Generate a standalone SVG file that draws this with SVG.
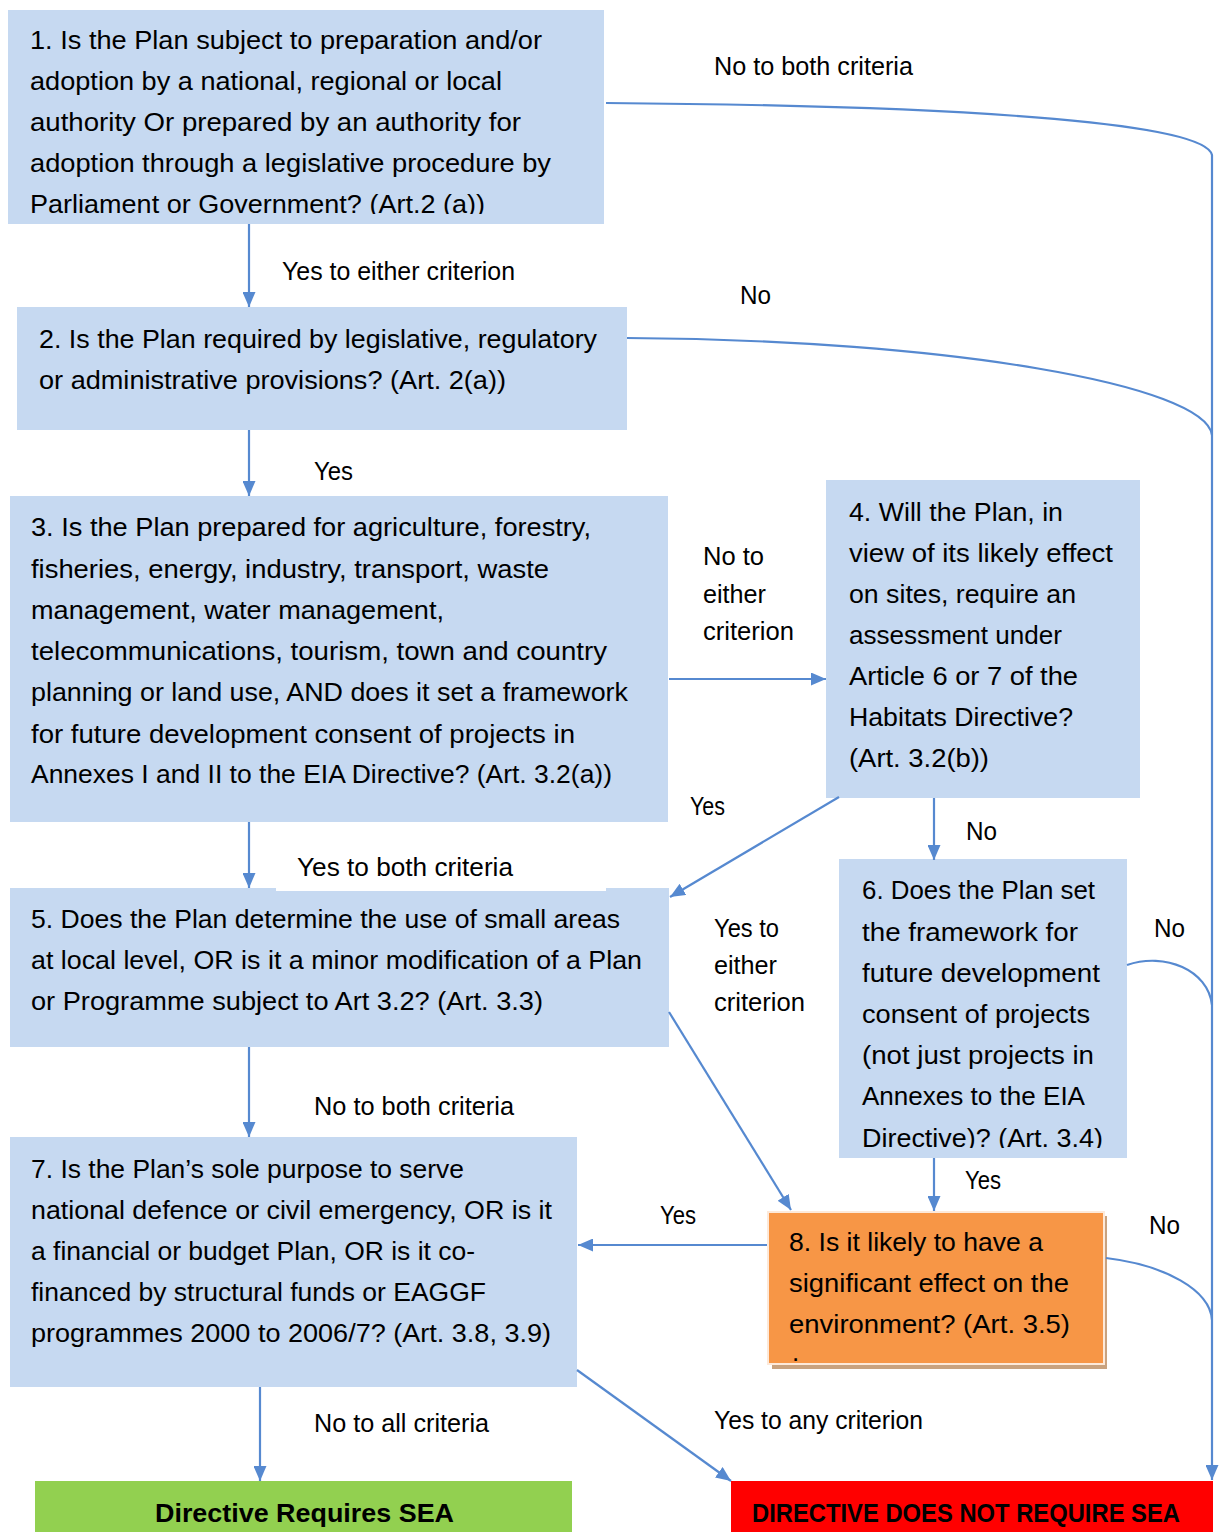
<svg xmlns="http://www.w3.org/2000/svg" width="1222" height="1532" viewBox="0 0 1222 1532">
<style>
.box{fill:#c6d9f1}
.t{font-family:"Liberation Sans",Arial,sans-serif;font-size:26px;fill:#000}
.lb{font-family:"Liberation Sans",Arial,sans-serif;font-size:26px;fill:#000}
.b{font-family:"Liberation Sans",Arial,sans-serif;font-size:26px;font-weight:bold;fill:#000}
.c{fill:none;stroke:#5689d0;stroke-width:2.2}
</style>
<defs>
<marker id="ah" markerUnits="userSpaceOnUse" markerWidth="15" markerHeight="13" refX="15" refY="6.5" orient="auto">
<path d="M0,0 L15,6.5 L0,13 z" fill="#5689d0"/>
</marker>
<clipPath id="clip1"><rect x="8" y="10" width="596" height="204"/></clipPath>
<clipPath id="clip6"><rect x="839" y="859" width="288" height="289"/></clipPath>
<clipPath id="clip8"><rect x="768" y="1212" width="336" height="152"/></clipPath>
</defs>
<rect width="1222" height="1532" fill="#fff"/>

<g id="node1">
<rect class="box" x="8" y="10" width="596" height="214"/>
<g clip-path="url(#clip1)">
<text class="t" x="30" y="49" textLength="512" lengthAdjust="spacingAndGlyphs">1. Is the Plan subject to preparation and/or</text>
<text class="t" x="30" y="90" textLength="472" lengthAdjust="spacingAndGlyphs">adoption by a national, regional or local</text>
<text class="t" x="30" y="131" textLength="491" lengthAdjust="spacingAndGlyphs">authority Or prepared by an authority for</text>
<text class="t" x="30" y="172" textLength="521" lengthAdjust="spacingAndGlyphs">adoption through a legislative procedure by</text>
<text class="t" x="30" y="213" textLength="455" lengthAdjust="spacingAndGlyphs">Parliament or Government? (Art.2 (a))</text>
</g>
</g>

<g id="node2">
<rect class="box" x="17" y="307" width="610" height="123"/>
<text class="t" x="39" y="348" textLength="558" lengthAdjust="spacingAndGlyphs">2. Is the Plan required by legislative, regulatory</text>
<text class="t" x="39" y="389" textLength="467" lengthAdjust="spacingAndGlyphs">or administrative provisions? (Art. 2(a))</text>
</g>

<g id="node3">
<rect class="box" x="10" y="496" width="658" height="326"/>
<text class="t" x="31" y="536" textLength="560" lengthAdjust="spacingAndGlyphs">3. Is the Plan prepared for agriculture, forestry,</text>
<text class="t" x="31" y="578" textLength="518" lengthAdjust="spacingAndGlyphs">fisheries, energy, industry, transport, waste</text>
<text class="t" x="31" y="619" textLength="413" lengthAdjust="spacingAndGlyphs">management, water management,</text>
<text class="t" x="31" y="660" textLength="576" lengthAdjust="spacingAndGlyphs">telecommunications, tourism, town and country</text>
<text class="t" x="31" y="701" textLength="597" lengthAdjust="spacingAndGlyphs">planning or land use, AND does it set a framework</text>
<text class="t" x="31" y="743" textLength="544" lengthAdjust="spacingAndGlyphs">for future development consent of projects in</text>
<text class="t" x="31" y="783" textLength="581" lengthAdjust="spacingAndGlyphs">Annexes I and II to the EIA Directive? (Art. 3.2(a))</text>
</g>

<g id="node4">
<rect class="box" x="826" y="480" width="314" height="318"/>
<text class="t" x="849" y="521" textLength="214" lengthAdjust="spacingAndGlyphs">4. Will the Plan, in</text>
<text class="t" x="849" y="562" textLength="264" lengthAdjust="spacingAndGlyphs">view of its likely effect</text>
<text class="t" x="849" y="603" textLength="227" lengthAdjust="spacingAndGlyphs">on sites, require an</text>
<text class="t" x="849" y="644" textLength="213" lengthAdjust="spacingAndGlyphs">assessment under</text>
<text class="t" x="849" y="685" textLength="229" lengthAdjust="spacingAndGlyphs">Article 6 or 7 of the</text>
<text class="t" x="849" y="726" textLength="224" lengthAdjust="spacingAndGlyphs">Habitats Directive?</text>
<text class="t" x="849" y="767" textLength="140" lengthAdjust="spacingAndGlyphs">(Art. 3.2(b))</text>
</g>

<g id="node5">
<rect class="box" x="10" y="888" width="659" height="159"/>
<text class="t" x="31" y="928" textLength="589" lengthAdjust="spacingAndGlyphs">5. Does the Plan determine the use of small areas</text>
<text class="t" x="31" y="969" textLength="611" lengthAdjust="spacingAndGlyphs">at local level, OR is it a minor modification of a Plan</text>
<text class="t" x="31" y="1010" textLength="512" lengthAdjust="spacingAndGlyphs">or Programme subject to Art 3.2? (Art. 3.3)</text>
</g>

<g id="node6">
<rect class="box" x="839" y="859" width="288" height="299"/>
<g clip-path="url(#clip6)">
<text class="t" x="862" y="899" textLength="233" lengthAdjust="spacingAndGlyphs">6. Does the Plan set</text>
<text class="t" x="862" y="941" textLength="216" lengthAdjust="spacingAndGlyphs">the framework for</text>
<text class="t" x="862" y="982" textLength="238" lengthAdjust="spacingAndGlyphs">future development</text>
<text class="t" x="862" y="1023" textLength="228" lengthAdjust="spacingAndGlyphs">consent of projects</text>
<text class="t" x="862" y="1064" textLength="232" lengthAdjust="spacingAndGlyphs">(not just projects in</text>
<text class="t" x="862" y="1105" textLength="223" lengthAdjust="spacingAndGlyphs">Annexes to the EIA</text>
<text class="t" x="862" y="1147" textLength="241" lengthAdjust="spacingAndGlyphs">Directive)? (Art. 3.4)</text>
</g>
</g>

<g id="node7">
<rect class="box" x="10" y="1137" width="567" height="250"/>
<text class="t" x="31" y="1178" textLength="433" lengthAdjust="spacingAndGlyphs">7. Is the Plan’s sole purpose to serve</text>
<text class="t" x="31" y="1219" textLength="521" lengthAdjust="spacingAndGlyphs">national defence or civil emergency, OR is it</text>
<text class="t" x="31" y="1260" textLength="444" lengthAdjust="spacingAndGlyphs">a financial or budget Plan, OR is it co-</text>
<text class="t" x="31" y="1301" textLength="455" lengthAdjust="spacingAndGlyphs">financed by structural funds or EAGGF</text>
<text class="t" x="31" y="1342" textLength="520" lengthAdjust="spacingAndGlyphs">programmes 2000 to 2006/7? (Art. 3.8, 3.9)</text>
</g>

<g id="node8">
<rect x="772" y="1216" width="335" height="153" fill="#c9a27e"/>
<rect x="768" y="1212" width="336" height="152" fill="#f79646" stroke="#fde9d9" stroke-width="2"/>
<g clip-path="url(#clip8)">
<text class="t" x="789" y="1251" textLength="254" lengthAdjust="spacingAndGlyphs">8. Is it likely to have a</text>
<text class="t" x="789" y="1292" textLength="280" lengthAdjust="spacingAndGlyphs">significant effect on the</text>
<text class="t" x="789" y="1333" textLength="281" lengthAdjust="spacingAndGlyphs">environment? (Art. 3.5)</text>
<text class="t" x="792" y="1361" font-size="14">.</text>
</g>
</g>

<g id="result-requires">
<rect x="35" y="1481" width="537" height="51" fill="#92d050"/>
<text class="b" x="155" y="1522" textLength="299" lengthAdjust="spacingAndGlyphs">Directive Requires SEA</text>
</g>

<g id="result-not-required">
<rect x="731" y="1481" width="482" height="51" fill="#ff0000"/>
<text class="b" x="752" y="1522" textLength="428" lengthAdjust="spacingAndGlyphs">DIRECTIVE DOES NOT REQUIRE SEA</text>
</g>

<g id="connectors">
<path class="c" d="M606,103 C1000,106 1205,125 1212,155 L1212,1480" marker-end="url(#ah)"/>
<path class="c" d="M627,338 C950,340 1205,385 1212,435"/>
<path class="c" d="M1127,965 C1165,952 1208,970 1212,1005"/>
<path class="c" d="M1106,1258 C1165,1265 1210,1290 1212,1320"/>
<path class="c" d="M249,224 L249,307" marker-end="url(#ah)"/>
<path class="c" d="M249,430 L249,496" marker-end="url(#ah)"/>
<path class="c" d="M669,679 L826,679" marker-end="url(#ah)"/>
<path class="c" d="M839,797 L670,897" marker-end="url(#ah)"/>
<path class="c" d="M934,798 L934,860" marker-end="url(#ah)"/>
<path class="c" d="M249,822 L249,888" marker-end="url(#ah)"/>
<path class="c" d="M669,1012 L791,1210" marker-end="url(#ah)"/>
<path class="c" d="M249,1047 L249,1137" marker-end="url(#ah)"/>
<path class="c" d="M934,1158 L934,1211" marker-end="url(#ah)"/>
<path class="c" d="M767,1245 L578,1245" marker-end="url(#ah)"/>
<path class="c" d="M577,1370 L731,1481" marker-end="url(#ah)"/>
<path class="c" d="M260,1387 L260,1481" marker-end="url(#ah)"/>
</g>

<g id="labels">
<text class="lb" x="714" y="75" textLength="199" lengthAdjust="spacingAndGlyphs">No to both criteria</text>
<text class="lb" x="282" y="280" textLength="233" lengthAdjust="spacingAndGlyphs">Yes to either criterion</text>
<text class="lb" x="740" y="304" textLength="31" lengthAdjust="spacingAndGlyphs">No</text>
<text class="lb" x="314" y="480" textLength="39" lengthAdjust="spacingAndGlyphs">Yes</text>
<text class="lb" x="703" y="565" textLength="61" lengthAdjust="spacingAndGlyphs">No to</text>
<text class="lb" x="703" y="603" textLength="63" lengthAdjust="spacingAndGlyphs">either</text>
<text class="lb" x="703" y="640" textLength="91" lengthAdjust="spacingAndGlyphs">criterion</text>
<text class="lb" x="690" y="815" textLength="35" lengthAdjust="spacingAndGlyphs">Yes</text>
<text class="lb" x="966" y="840" textLength="31" lengthAdjust="spacingAndGlyphs">No</text>
<rect x="276" y="850" width="330" height="41" fill="#fff"/>
<text class="lb" x="297" y="876" textLength="216" lengthAdjust="spacingAndGlyphs">Yes to both criteria</text>
<text class="lb" x="714" y="937" textLength="65" lengthAdjust="spacingAndGlyphs">Yes to</text>
<text class="lb" x="714" y="974" textLength="63" lengthAdjust="spacingAndGlyphs">either</text>
<text class="lb" x="714" y="1011" textLength="91" lengthAdjust="spacingAndGlyphs">criterion</text>
<text class="lb" x="1154" y="937" textLength="31" lengthAdjust="spacingAndGlyphs">No</text>
<text class="lb" x="314" y="1115" textLength="200" lengthAdjust="spacingAndGlyphs">No to both criteria</text>
<text class="lb" x="965" y="1189" textLength="36" lengthAdjust="spacingAndGlyphs">Yes</text>
<text class="lb" x="660" y="1224" textLength="36" lengthAdjust="spacingAndGlyphs">Yes</text>
<text class="lb" x="1149" y="1234" textLength="31" lengthAdjust="spacingAndGlyphs">No</text>
<text class="lb" x="714" y="1429" textLength="209" lengthAdjust="spacingAndGlyphs">Yes to any criterion</text>
<text class="lb" x="314" y="1432" textLength="175" lengthAdjust="spacingAndGlyphs">No to all criteria</text>
</g>
</svg>
